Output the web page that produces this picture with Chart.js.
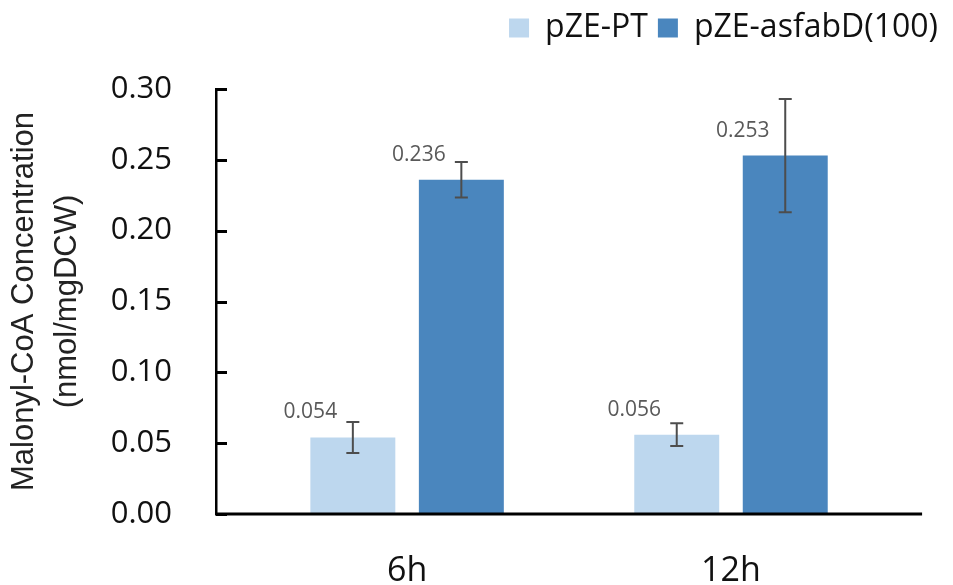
<!DOCTYPE html>
<html>
<head>
<meta charset="utf-8">
<title>Malonyl-CoA</title>
<script src="https://cdn.jsdelivr.net/npm/chart.js@4.4.1/dist/chart.umd.min.js"></script>
<style>
  html, body { margin: 0; padding: 0; background: #fff; }
  #box { width: 953px; height: 585px; }
</style>
</head>
<body>
<div id="box"><canvas id="myChart"></canvas></div>
<script>
// data
var categories = ['6h', '12h'];
var seriesNames = ['pZE-PT', 'pZE-asfabD(100)'];
var ptValues = [0.054, 0.056];
var ptErrors = [0.011, 0.008];
var asfabValues = [0.236, 0.253];
var asfabErrors = [0.0125, 0.040];
var yTicks = [0, 0.05, 0.10, 0.15, 0.20, 0.25, 0.30];

var xMin = -0.59, xMax = 1.67, axisEnd = 1.59;

function points(values) {
    return values.map(function (v, i) { return { x: i, y: v }; });
}

// error bars, value labels, axis line and inside tick marks, all through the scales
var barExtras = {
    id: 'barExtras',
    afterDraw: function (chart) {
        var ctx = chart.ctx;
        var y = chart.scales.y;
        var x = chart.scales.x;
        var left = chart.chartArea.left;
        var errors = [ptErrors, asfabErrors];
        var values = [ptValues, asfabValues];
        ctx.save();
        chart.data.datasets.forEach(function (ds, d) {
            var meta = chart.getDatasetMeta(d);
            meta.data.forEach(function (bar, i) {
                var v = values[d][i], e = errors[d][i];
                var top = y.getPixelForValue(v + e);
                var bot = y.getPixelForValue(v - e);
                ctx.strokeStyle = '#4d4d4d';
                ctx.lineWidth = 2;
                ctx.beginPath();
                ctx.moveTo(bar.x, top); ctx.lineTo(bar.x, bot);
                ctx.moveTo(bar.x - 6.5, top); ctx.lineTo(bar.x + 6.5, top);
                ctx.moveTo(bar.x - 6.5, bot); ctx.lineTo(bar.x + 6.5, bot);
                ctx.stroke();

                ctx.fillStyle = '#595959';
                ctx.font = '21px "Open Sans"';
                ctx.textAlign = 'center';
                ctx.textBaseline = 'middle';
                ctx.fillText(v.toFixed(3), bar.x - bar.width / 2, bar.y - 25);
            });
        });
        // tick marks pointing into the plot
        ctx.strokeStyle = '#000000';
        ctx.lineWidth = 3;
        for (var k = 0; k < yTicks.length; k++) {
            var py = Math.round(y.getPixelForValue(yTicks[k])) + 0.5;
            ctx.beginPath();
            ctx.moveTo(left, py);
            ctx.lineTo(left + 11, py);
            ctx.stroke();
        }
        // x axis line
        var y0 = y.getPixelForValue(0);
        ctx.lineWidth = 3;
        ctx.beginPath();
        ctx.moveTo(left - 1, y0);
        ctx.lineTo(x.getPixelForValue(axisEnd), y0);
        ctx.stroke();
        ctx.restore();
    }
};

var legendSpace = {
    id: 'legendSpace',
    beforeInit: function (chart) {
        var fit = chart.legend.fit;
        chart.legend.fit = function () {
            fit.bind(chart.legend)();
            this.height = 87;
        };
    }
};

var ctx = document.getElementById('myChart').getContext('2d');
var myChart = new Chart(ctx, {
    type: 'bar',
    data: {
        datasets: [{
            label: seriesNames[0],
            data: points(ptValues),
            backgroundColor: '#bdd7ee',
            categoryPercentage: 0.67,
            barPercentage: 0.783
        }, {
            label: seriesNames[1],
            data: points(asfabValues),
            backgroundColor: '#4a86be',
            categoryPercentage: 0.67,
            barPercentage: 0.783
        }]
    },
    options: {
        responsive: true,
        maintainAspectRatio: false,
        animation: false,
        layout: { padding: { left: 3, right: 5, top: 2, bottom: 0 } },
        plugins: {
            tooltip: { enabled: false },
            legend: {
                position: 'top',
                align: 'end',
                labels: {
                    boxWidth: 20,
                    boxHeight: 19,
                    padding: 10,
                    color: '#111',
                    font: { family: 'Open Sans', size: 32 }
                }
            }
        },
        scales: {
            x: {
                type: 'linear',
                min: xMin,
                max: xMax,
                offset: false,
                grid: { display: false, drawTicks: false, offset: false },
                border: { display: false },
                afterBuildTicks: function (scale) {
                    scale.ticks = categories.map(function (c, i) { return { value: i }; });
                },
                afterFit: function (scale) { scale.height = 71; },
                ticks: {
                    padding: 37,
                    color: '#111',
                    font: { family: 'Open Sans', size: 34 },
                    callback: function (v) { return categories[v]; }
                }
            },
            y: {
                min: 0,
                max: 0.3,
                afterBuildTicks: function (scale) {
                    scale.ticks = yTicks.map(function (v) { return { value: v }; });
                },
                afterFit: function (scale) { scale.width = 213; },
                grid: { drawOnChartArea: false, drawTicks: false },
                border: { color: '#000', width: 2.5 },
                ticks: {
                    padding: 44,
                    color: '#111',
                    font: { family: 'Open Sans', size: 31 },
                    callback: function (v) { return v.toFixed(2); }
                },
                title: {
                    display: true,
                    text: ['Malonyl-CoA Concentration', '(nmol/mgDCW)'],
                    color: '#222',
                    padding: 0,
                    font: { family: 'Liberation Sans', size: 31, lineHeight: 1.39 }
                }
            }
        }
    },
    plugins: [barExtras, legendSpace]
});
</script>
</body>
</html>
